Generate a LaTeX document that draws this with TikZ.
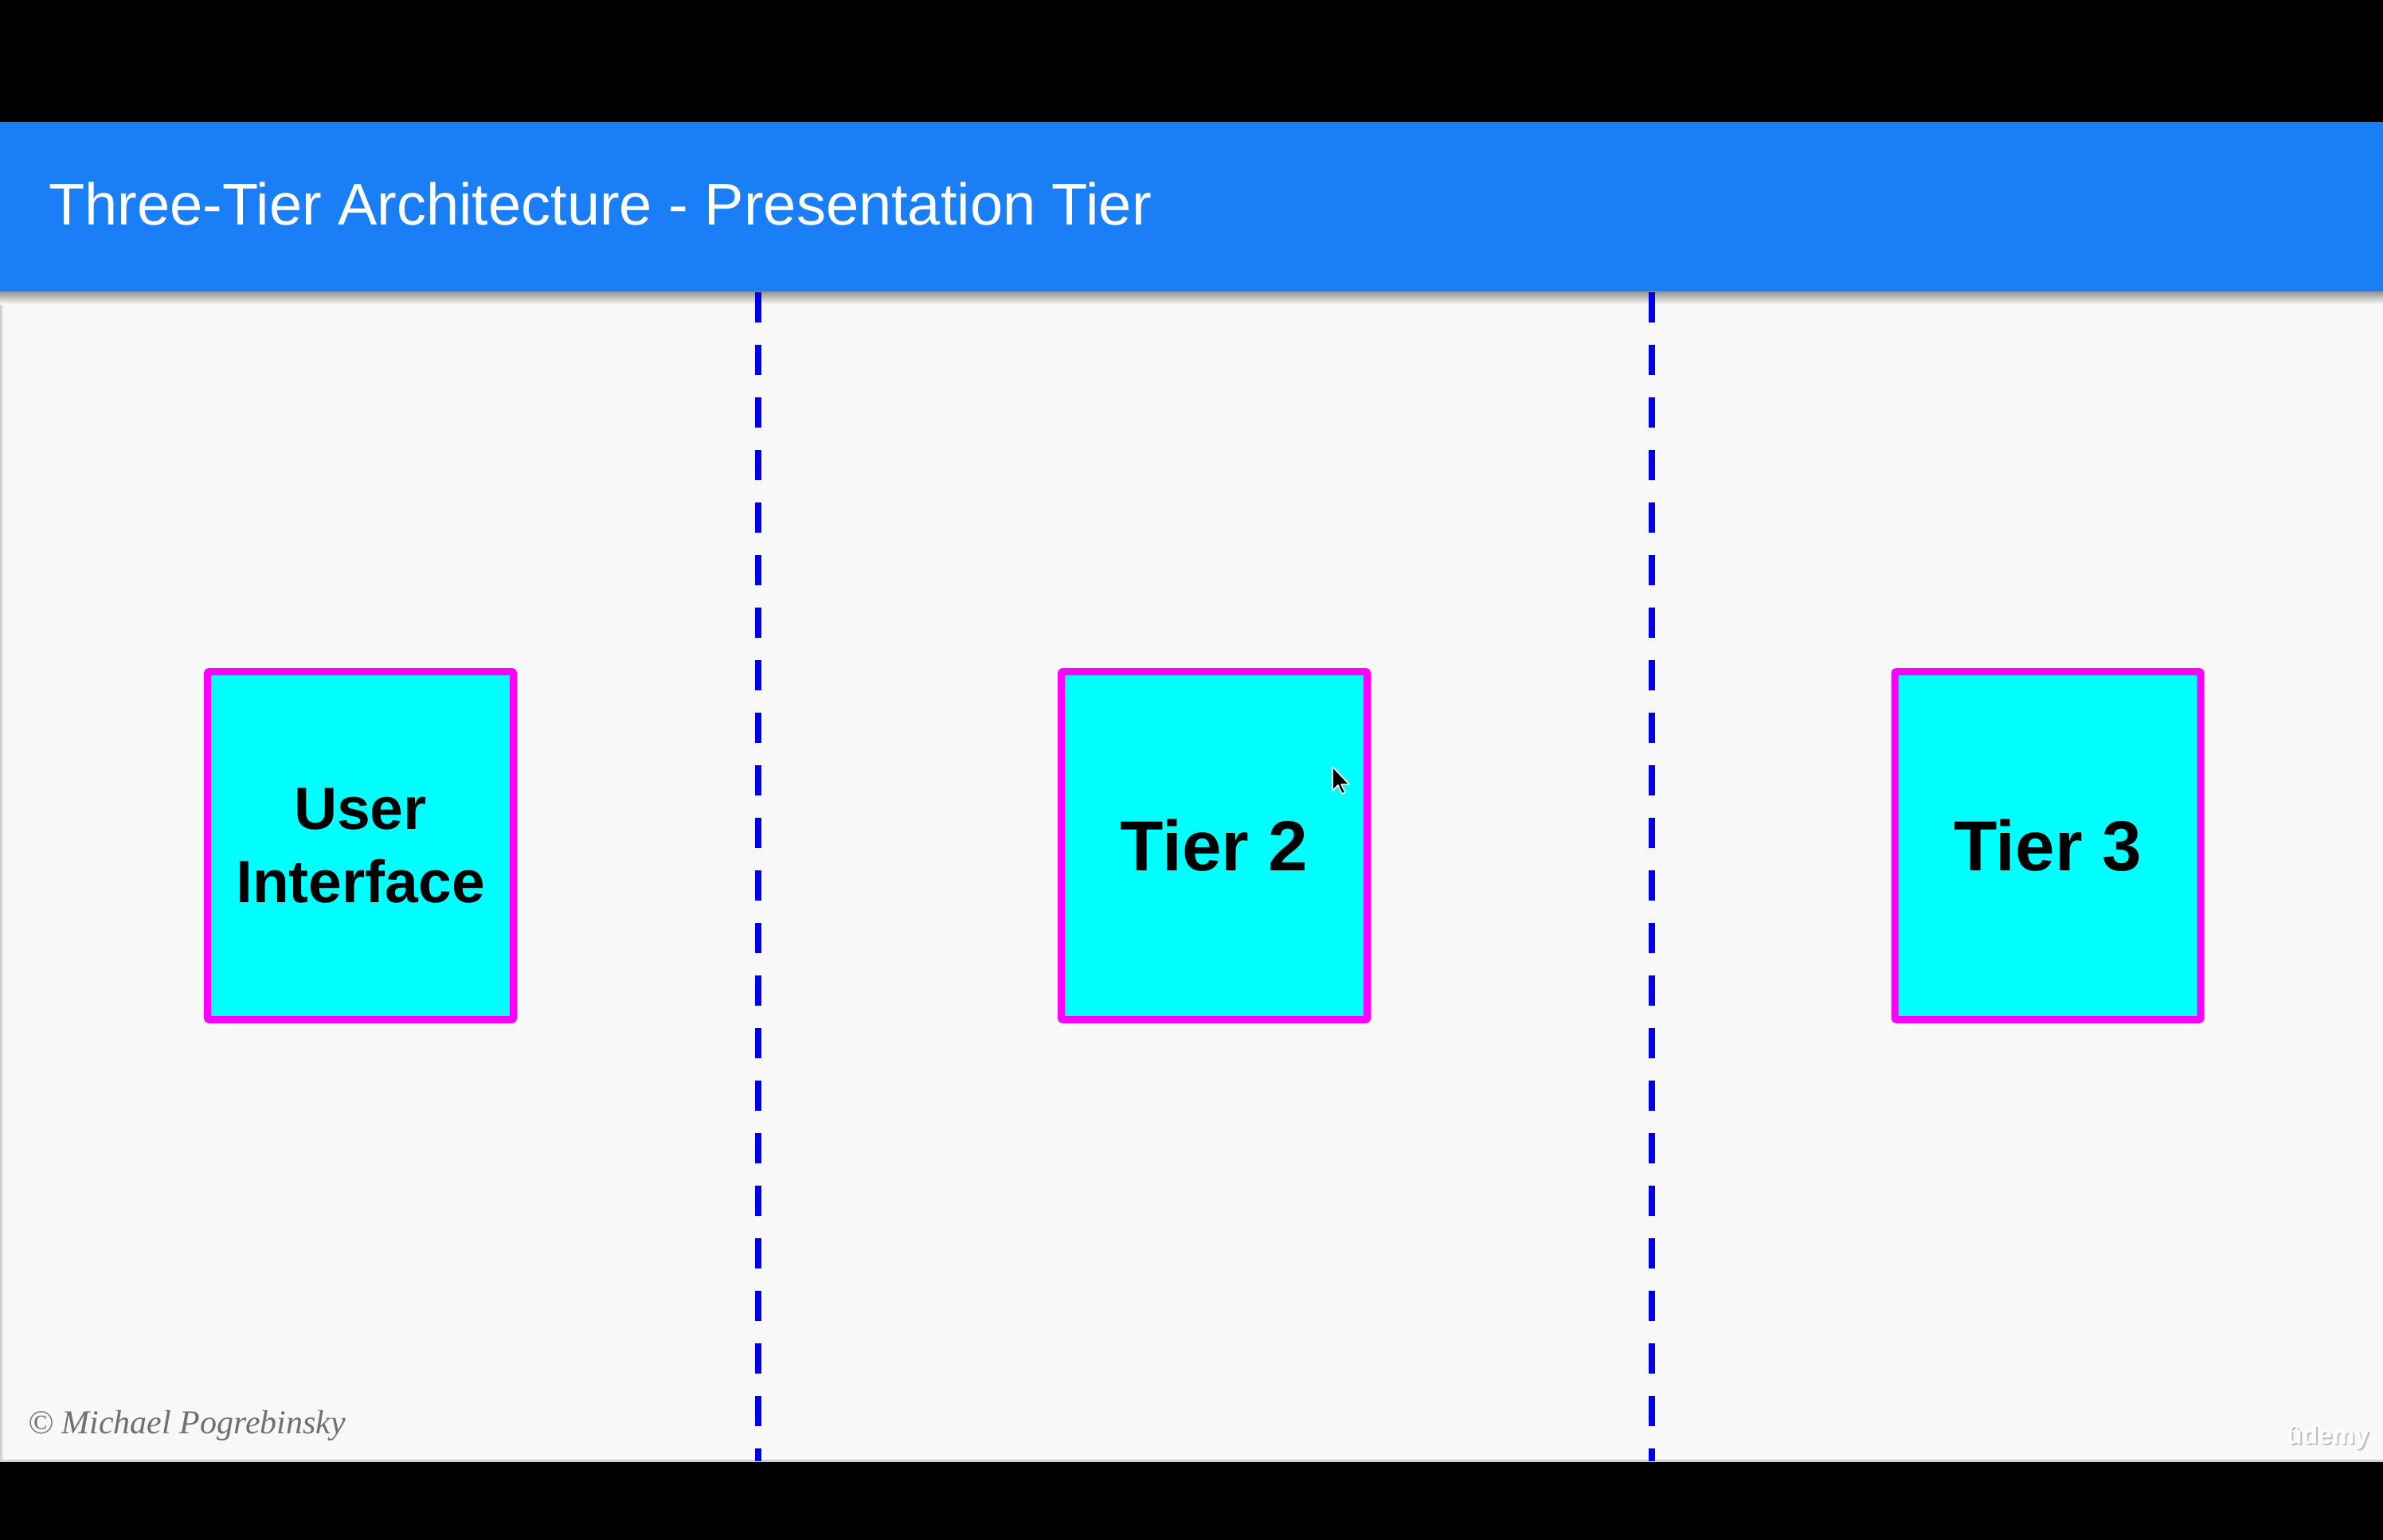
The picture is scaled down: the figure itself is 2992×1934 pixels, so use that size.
\documentclass[tikz,border=0pt]{standalone}
\usepackage{fontspec}
\setmainfont{Liberation Sans}
\newfontfamily\copyfont{Liberation Serif}
\definecolor{hdr}{HTML}{1A7EF6}
\definecolor{bg}{HTML}{F8F8F8}
\definecolor{sepblue}{HTML}{0000E6}
\definecolor{copygray}{HTML}{707070}
\definecolor{boxfill}{HTML}{00FFFF}
\definecolor{boxline}{HTML}{FF00FF}
\begin{document}
\begin{tikzpicture}[x=1pt,y=-1pt,
  tierbox/.style={draw=boxline, fill=boxfill, line width=9pt, rounded corners=2pt,
    minimum width=384pt, minimum height=437pt, inner sep=0pt, align=center,
    text=black, font=\bfseries\fontsize{89}{100}\selectfont},
  sepline/.style={draw=sepblue, line width=8pt, dash pattern=on 38pt off 28pt},
  plaintext/.style={anchor=base west, inner sep=0pt}]
\useasboundingbox (0,0) rectangle (2992,1934);
% frame
\fill[black] (0,0) rectangle (2992,1934);
\fill[bg] (0,367) rectangle (2992,1835);
\draw[black!18, line width=3pt] (1.5,367) -- (1.5,1835);
\draw[black!18, line width=3pt] (0,1834) -- (2992,1834);
\fill[hdr] (0,153) rectangle (2992,367);
\shade[top color=black!40, bottom color=bg] (0,367) rectangle (2992,382);
% title
\node[plaintext, text=white, font=\fontsize{74}{80}\selectfont] (title) at (61,283)
  {Three-Tier Architecture - Presentation Tier};
% separators
\coordinate (s1t) at (952,367);
\coordinate (s1b) at (952,1835);
\coordinate (s2t) at (2074,367);
\coordinate (s2b) at (2074,1835);
\draw[sepline] (s1t) -- (s1b);
\draw[sepline] (s2t) -- (s2b);
% tiers
\node[tierbox, font=\bfseries\fontsize{75}{92}\selectfont] (ui) at (452.5,1062) {User\\Interface};
\node[tierbox] (t2) at (1524.5,1062) {Tier 2};
\node[tierbox] (t3) at (2571,1062) {Tier 3};
% cursor
\filldraw[fill=black, draw=white, line width=1.5pt, line join=round]
  (1673,963) -- ++(0,30) -- ++(7,-7) -- ++(5,11) -- ++(4,-2) -- ++(-5,-10) -- ++(10,0) -- cycle;
% footer texts
\node[plaintext, text=copygray, font=\copyfont\itshape\fontsize{42}{42}\selectfont] (copy) at (35,1800)
  {© Michael Pogrebinsky};
\node[plaintext, text=black!25, font=\bfseries\fontsize{32}{32}\selectfont] (udemyshadow) at (2873,1815) {ûdemy};
\node[plaintext, text=white, font=\bfseries\fontsize{32}{32}\selectfont] (udemy) at (2871,1813) {ûdemy};
\end{tikzpicture}
\end{document}
